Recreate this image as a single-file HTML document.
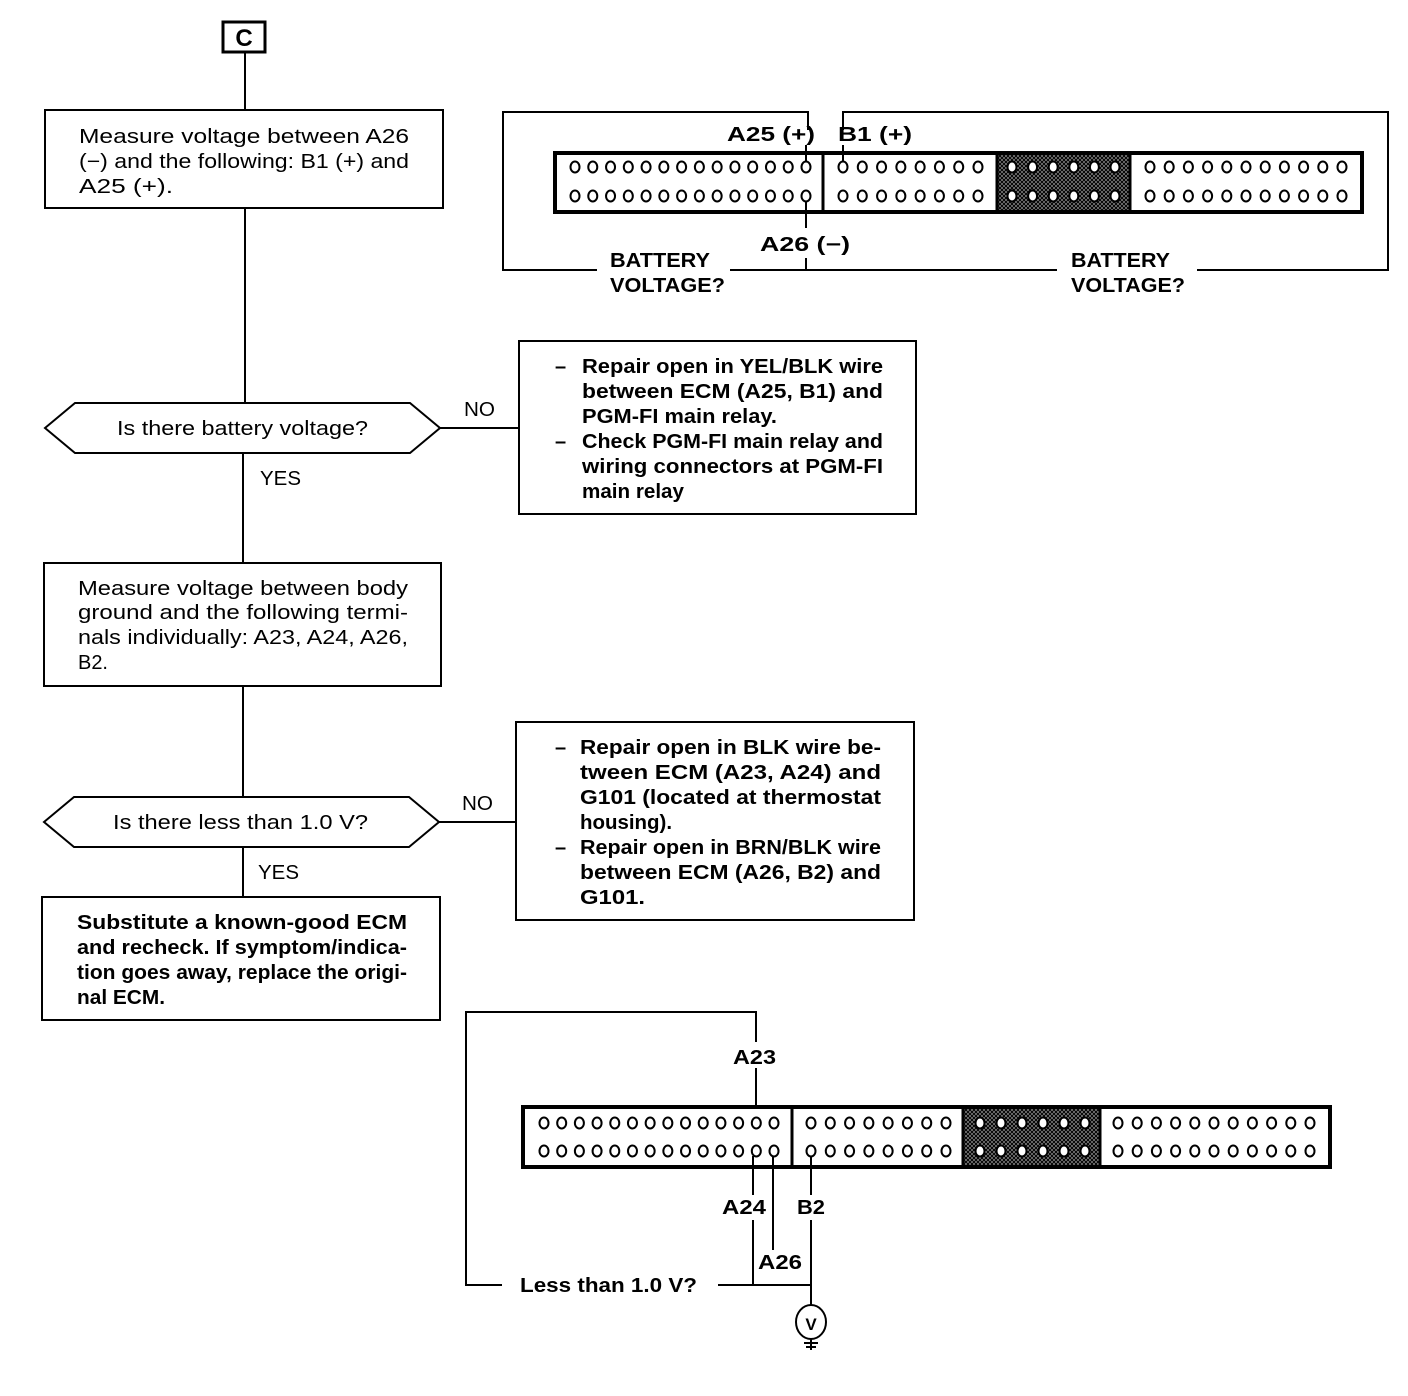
<!DOCTYPE html>
<html><head><meta charset="utf-8"><style>
html,body{margin:0;padding:0;background:#fff}
svg{display:block}
text{font-family:"Liberation Sans",sans-serif;fill:#000}
.n{font-size:20px}
.b{font-size:20px;font-weight:bold}
</style></head><body>
<svg id="s" width="1408" height="1396" viewBox="0 0 1408 1396" xmlns="http://www.w3.org/2000/svg">
<defs>
<pattern id="hatch" width="4" height="4" patternUnits="userSpaceOnUse">
<rect width="4" height="4" fill="#888"/>
<path d="M0 0L4 4M4 0L0 4" stroke="#000" stroke-width="1"/>
</pattern>
</defs>
<g fill="none" stroke="#000" stroke-width="2">
<rect x="223" y="22" width="42" height="30" stroke-width="3"/>
<line x1="245" y1="52" x2="245" y2="110"/>
<rect x="45" y="110" width="398" height="98"/>
<line x1="245" y1="208" x2="245" y2="403"/>
<polygon points="45,428 75,403 410,403 440,428 410,453 75,453"/>
<line x1="440" y1="428" x2="519" y2="428"/>
<rect x="519" y="341" width="397" height="173"/>
<line x1="243" y1="453" x2="243" y2="563"/>
<rect x="44" y="563" width="397" height="123"/>
<line x1="243" y1="686" x2="243" y2="797"/>
<polygon points="44,822 74,797 409,797 439,822 409,847 74,847"/>
<line x1="439" y1="822" x2="516" y2="822"/>
<rect x="516" y="722" width="398" height="198"/>
<line x1="243" y1="847" x2="243" y2="897"/>
<rect x="42" y="897" width="398" height="123"/>

<polyline points="808,130 808,112 503,112 503,270 597,270"/>
<line x1="730" y1="270" x2="1057" y2="270"/>
<polyline points="1197,270 1388,270 1388,112 843,112 843,130"/>
<rect x="555" y="153" width="807" height="59" stroke-width="4" fill="#fff"/>
<rect x="997" y="155" width="133" height="55" fill="url(#hatch)" stroke="none"/>
<line x1="823" y1="153" x2="823" y2="212" stroke-width="3"/>
<line x1="997" y1="153" x2="997" y2="212" stroke-width="3"/>
<line x1="1130" y1="153" x2="1130" y2="212" stroke-width="3"/>
<line x1="806" y1="145" x2="806" y2="162"/>
<line x1="843" y1="145" x2="843" y2="162"/>
<line x1="806" y1="201" x2="806" y2="228"/>
<line x1="806" y1="258" x2="806" y2="270"/>

<polyline points="756,1118 756,1068"/>
<polyline points="756,1042 756,1012 466,1012 466,1285 502,1285"/>
<line x1="718" y1="1285" x2="811" y2="1285"/>
<rect x="523" y="1107" width="807" height="60" stroke-width="4" fill="#fff"/>
<rect x="963" y="1109" width="137" height="56" fill="url(#hatch)" stroke="none"/>
<line x1="792" y1="1107" x2="792" y2="1167" stroke-width="3"/>
<line x1="963" y1="1107" x2="963" y2="1167" stroke-width="3"/>
<line x1="1100" y1="1107" x2="1100" y2="1167" stroke-width="3"/>
<line x1="753" y1="1156" x2="753" y2="1195"/>
<line x1="753" y1="1220" x2="753" y2="1285"/>
<line x1="773" y1="1156" x2="773" y2="1250"/>
<line x1="811" y1="1156" x2="811" y2="1195"/>
<line x1="811" y1="1220" x2="811" y2="1306"/>
<ellipse cx="811" cy="1322" rx="15" ry="17"/>
<line x1="811" y1="1339" x2="811" y2="1350"/>
<line x1="804" y1="1343" x2="818" y2="1343"/>
<line x1="806" y1="1347" x2="816" y2="1347"/>
</g>
<g id="circ" fill="#fff" stroke="#000" stroke-width="2"></g>

<text x="244" y="46" font-size="24" font-weight="bold" text-anchor="middle">C</text>

<g class="n">
<text x="79" y="143" textLength="330" lengthAdjust="spacingAndGlyphs">Measure voltage between A26</text>
<text x="79" y="168" textLength="330" lengthAdjust="spacingAndGlyphs">(−) and the following: B1 (+) and</text>
<text x="79" y="193" textLength="94" lengthAdjust="spacingAndGlyphs">A25 (+).</text>
<text x="117" y="435" textLength="251" lengthAdjust="spacingAndGlyphs">Is there battery voltage?</text>
<text x="464" y="416" textLength="31" lengthAdjust="spacingAndGlyphs">NO</text>
<text x="260" y="485" textLength="41" lengthAdjust="spacingAndGlyphs">YES</text>
<text x="78" y="595" textLength="330" lengthAdjust="spacingAndGlyphs">Measure voltage between body</text>
<text x="78" y="619" textLength="330" lengthAdjust="spacingAndGlyphs">ground and the following termi-</text>
<text x="78" y="644" textLength="330" lengthAdjust="spacingAndGlyphs">nals individually: A23, A24, A26,</text>
<text x="78" y="669" textLength="30" lengthAdjust="spacingAndGlyphs">B2.</text>
<text x="113" y="829" textLength="255" lengthAdjust="spacingAndGlyphs">Is there less than 1.0 V?</text>
<text x="462" y="810" textLength="31" lengthAdjust="spacingAndGlyphs">NO</text>
<text x="258" y="879" textLength="41" lengthAdjust="spacingAndGlyphs">YES</text>
</g>
<g class="b">
<text x="555" y="373">–</text>
<text x="582" y="373" textLength="301" lengthAdjust="spacingAndGlyphs">Repair open in YEL/BLK wire</text>
<text x="582" y="398" textLength="301" lengthAdjust="spacingAndGlyphs">between ECM (A25, B1) and</text>
<text x="582" y="423" textLength="195" lengthAdjust="spacingAndGlyphs">PGM-FI main relay.</text>
<text x="555" y="448">–</text>
<text x="582" y="448" textLength="301" lengthAdjust="spacingAndGlyphs">Check PGM-FI main relay and</text>
<text x="582" y="473" textLength="301" lengthAdjust="spacingAndGlyphs">wiring connectors at PGM-FI</text>
<text x="582" y="498" textLength="102" lengthAdjust="spacingAndGlyphs">main relay</text>

<text x="555" y="754">–</text>
<text x="580" y="754" textLength="301" lengthAdjust="spacingAndGlyphs">Repair open in BLK wire be-</text>
<text x="580" y="779" textLength="301" lengthAdjust="spacingAndGlyphs">tween ECM (A23, A24) and</text>
<text x="580" y="804" textLength="301" lengthAdjust="spacingAndGlyphs">G101 (located at thermostat</text>
<text x="580" y="829" textLength="92" lengthAdjust="spacingAndGlyphs">housing).</text>
<text x="555" y="854">–</text>
<text x="580" y="854" textLength="301" lengthAdjust="spacingAndGlyphs">Repair open in BRN/BLK wire</text>
<text x="580" y="879" textLength="301" lengthAdjust="spacingAndGlyphs">between ECM (A26, B2) and</text>
<text x="580" y="904" textLength="65" lengthAdjust="spacingAndGlyphs">G101.</text>

<text x="77" y="929" textLength="330" lengthAdjust="spacingAndGlyphs">Substitute a known-good ECM</text>
<text x="77" y="954" textLength="330" lengthAdjust="spacingAndGlyphs">and recheck. If symptom/indica-</text>
<text x="77" y="979" textLength="330" lengthAdjust="spacingAndGlyphs">tion goes away, replace the origi-</text>
<text x="77" y="1004" textLength="88" lengthAdjust="spacingAndGlyphs">nal ECM.</text>

<text x="727" y="141" textLength="88" lengthAdjust="spacingAndGlyphs">A25 (+)</text>
<text x="838" y="141" textLength="74" lengthAdjust="spacingAndGlyphs">B1 (+)</text>
<text x="760" y="251" textLength="90" lengthAdjust="spacingAndGlyphs">A26 (−)</text>
<text x="610" y="267" textLength="100" lengthAdjust="spacingAndGlyphs">BATTERY</text>
<text x="610" y="292" textLength="115" lengthAdjust="spacingAndGlyphs">VOLTAGE?</text>
<text x="1071" y="267" textLength="99" lengthAdjust="spacingAndGlyphs">BATTERY</text>
<text x="1071" y="292" textLength="114" lengthAdjust="spacingAndGlyphs">VOLTAGE?</text>

<text x="733" y="1064" textLength="43" lengthAdjust="spacingAndGlyphs">A23</text>
<text x="722" y="1214" textLength="44" lengthAdjust="spacingAndGlyphs">A24</text>
<text x="797" y="1214" textLength="28" lengthAdjust="spacingAndGlyphs">B2</text>
<text x="758" y="1269" textLength="44" lengthAdjust="spacingAndGlyphs">A26</text>
<text x="520" y="1292" textLength="177" lengthAdjust="spacingAndGlyphs">Less than 1.0 V?</text>
<text x="811" y="1330" text-anchor="middle" font-size="17">V</text>
</g>
</svg>
<script>
var g=document.getElementById('circ'),ns='http://www.w3.org/2000/svg';
function row(x0,x1,n,y){for(var i=0;i<n;i++){var e=document.createElementNS(ns,'ellipse');e.setAttribute('cx',x0+(x1-x0)*i/(n-1));e.setAttribute('cy',y);e.setAttribute('rx',4.5);e.setAttribute('ry',5.5);g.appendChild(e);}}
[167,196].forEach(function(y){row(575,806,14,y);row(843,978,8,y);row(1012,1115,6,y);row(1150,1342,11,y);});
[1123,1151].forEach(function(y){row(544,774,14,y);row(811,946,8,y);row(980,1085,6,y);row(1118,1310,11,y);});
</script>
</body></html>
